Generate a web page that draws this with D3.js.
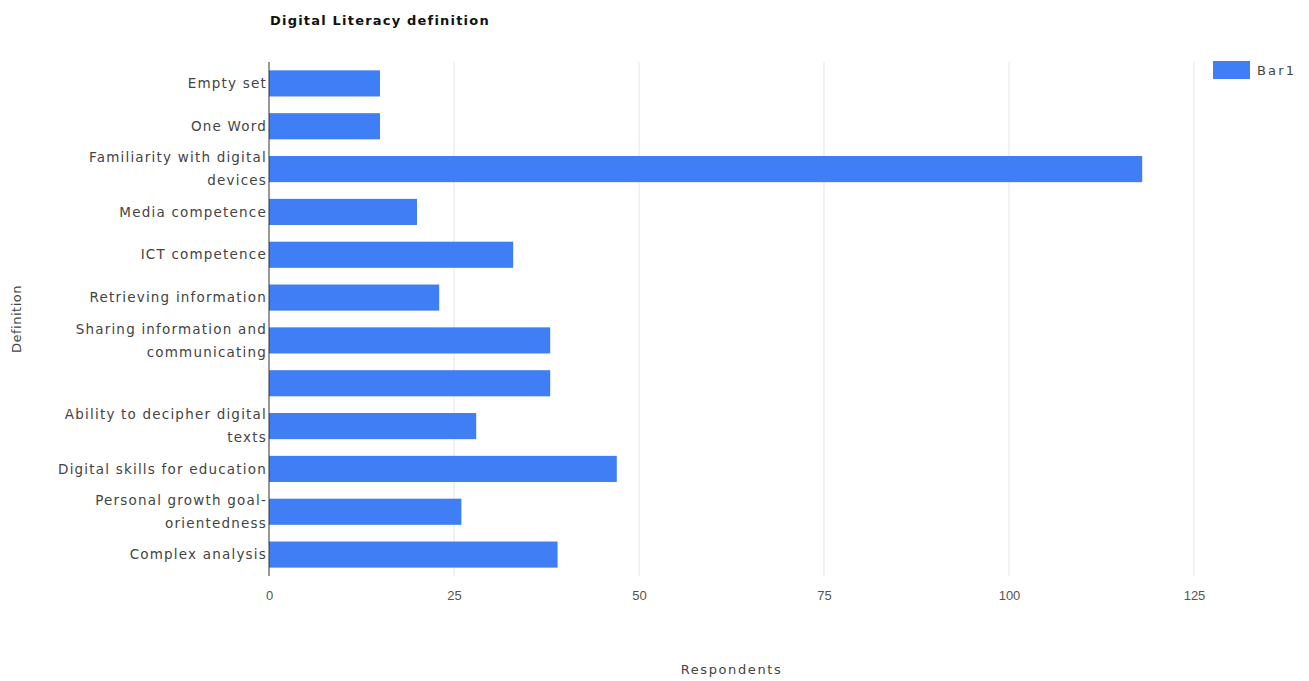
<!DOCTYPE html>
<html><head><meta charset="utf-8">
<script src="https://cdn.jsdelivr.net/npm/d3@7"></script>
<style>body{margin:0;background:#fff;font-family:"DejaVu Sans",sans-serif}</style>
</head><body>
<svg id="c" width="1309" height="681"></svg>
<script>
const categories = [
  ["Empty set"],
  ["One Word"],
  ["Familiarity with digital","devices"],
  ["Media competence"],
  ["ICT competence"],
  ["Retrieving information"],
  ["Sharing information and","communicating"],
  [""],
  ["Ability to decipher digital","texts"],
  ["Digital skills for education"],
  ["Personal growth goal-","orientedness"],
  ["Complex analysis"]
];
const values = [15, 15, 118, 20, 33, 23, 38, 38, 28, 47, 26, 39];
const xTicks = [0, 25, 50, 75, 100, 125];
const seriesName = "Bar1";
const title = "Digital Literacy definition";
const xTitle = "Respondents";
const yTitle = "Definition";

const FONT = "DejaVu Sans, sans-serif";
const svg = d3.select("#c").attr("font-family", FONT);
const L = 269, R = 1194, T = 62, B = 576;
const blue = "#3f7ef4";
const x = d3.scaleLinear().domain([0, 125]).range([L, R]);
const y = d3.scaleBand().domain(d3.range(categories.length)).range([T, B]).paddingInner(0.39).paddingOuter(0.195);

// gridlines
svg.append("g").selectAll("line").data(xTicks.slice(1)).join("line")
  .attr("x1", d => x(d)).attr("x2", d => x(d)).attr("y1", T).attr("y2", B)
  .attr("stroke", "#e4e4e4").attr("stroke-width", 1);

// bars
svg.append("g").selectAll("rect").data(values).join("rect")
  .attr("x", x(0)).attr("y", (d, i) => y(i))
  .attr("width", d => x(d) - x(0)).attr("height", y.bandwidth())
  .attr("fill", blue);

// axis line
svg.append("line").attr("x1", L).attr("x2", L).attr("y1", T).attr("y2", B)
  .attr("stroke", "#333").attr("stroke-width", 1);

// x tick labels
const xAxis = d3.axisBottom(x).tickValues(xTicks).tickSize(0).tickPadding(0);
const gx = svg.append("g").attr("transform", `translate(0,${B + 15})`).call(xAxis);
gx.select(".domain").remove();
gx.selectAll("text").attr("font-family", "Liberation Sans, Arial, sans-serif")
  .attr("font-size", 13).attr("fill", "#555");

// y labels
const gy = svg.append("g");
categories.forEach((lines, i) => {
  const cy = y(i) + y.bandwidth() / 2;
  const n = lines.length;
  const t = gy.append("text").attr("text-anchor", "end")
    .attr("font-size", 13.5).attr("letter-spacing", 1.2).attr("fill", "#444");
  lines.forEach((ln, k) => {
    t.append("tspan").attr("x", L - 2)
      .attr("y", cy + (k - (n - 1) / 2) * 23)
      .attr("dy", "0.35em").text(ln);
  });
});

// title
svg.append("text").attr("x", 270).attr("y", 25).attr("font-size", 13)
  .attr("letter-spacing", 1.2)
  .attr("font-weight", "bold").attr("fill", "#111").text(title);

// axis titles
svg.append("text").attr("x", (L + R) / 2).attr("y", 674).attr("text-anchor", "middle")
  .attr("font-size", 13).attr("letter-spacing", 1.6).attr("fill", "#444").text(xTitle);
svg.append("text").attr("transform", `translate(21,${(T + B) / 2}) rotate(-90)`)
  .attr("text-anchor", "middle").attr("font-size", 13).attr("letter-spacing", 0.5)
  .attr("fill", "#444").text(yTitle);

// legend
svg.append("rect").attr("x", 1213).attr("y", 61).attr("width", 37).attr("height", 18).attr("fill", blue);
svg.append("text").attr("x", 1257).attr("y", 70).attr("dy", "0.35em")
  .attr("font-size", 13).attr("letter-spacing", 2.2).attr("fill", "#444").text(seriesName);
</script>
</body></html>
